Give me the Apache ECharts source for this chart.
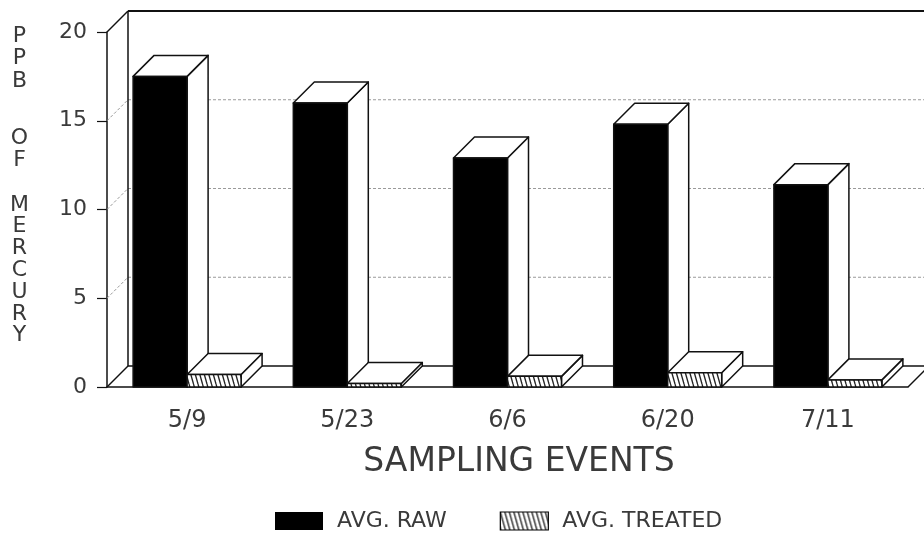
<!DOCTYPE html>
<html>
<head>
<meta charset="utf-8">
<title>PPB of Mercury by Sampling Event</title>
<script src="https://cdn.jsdelivr.net/npm/echarts@6/dist/echarts.min.js"></script>
<style>
  html, body { margin: 0; padding: 0; background: #fff; }
  #chart { width: 924px; height: 541px; }
</style>
</head>
<body>
<div id="chart"></div>
<script>
// Sampling dates and mercury readings (parts per billion)
const CATEGORIES = ['5/9', '5/23', '6/6', '6/20', '7/11'];
const AVG_RAW = [17.5, 16.0, 12.9, 14.8, 11.4];
const AVG_TREATED = [0.7, 0.2, 0.6, 0.8, 0.4];
const Y_TICKS = [0, 5, 10, 15, 20];
const SERIES_NAMES = ['AVG. RAW', 'AVG. TREATED'];
const Y_TITLE_WORDS = ['PPB', 'OF', 'MERCURY'];
const X_TITLE = 'SAMPLING EVENTS';

// Drawing style
const DEPTH = 21;          // oblique depth offset of the 3D box, px
const BAR_RATIO = 0.337;   // bar width as a share of a category band
const FONT = 'DejaVu Sans';
const INK = '#111';
const TEXT = '#3a3a3a';

// Diagonal hatch used for the treated bars
function hatchPattern() {
  const c = document.createElement('canvas');
  c.width = 9; c.height = 32;
  const g = c.getContext('2d');
  g.fillStyle = '#fff';
  g.fillRect(0, 0, 9, 32);
  g.strokeStyle = '#222';
  g.lineWidth = 1.3;
  for (const x of [-9, -4.5, 0, 4.5, 9]) {
    g.beginPath();
    g.moveTo(x, 0);
    g.lineTo(x + 9, 32);
    g.stroke();
  }
  return { image: c, repeat: 'repeat' };
}
const HATCH = hatchPattern();

const line = (x1, y1, x2, y2, style) => ({ type: 'line', shape: { x1, y1, x2, y2 }, style });

// Back wall, floor, left wall and wall gridlines, built from the grid rectangle
function renderFrame(params, api) {
  const cs = params.coordSys;
  const L = cs.x, T = cs.y, R = cs.x + cs.width, B = cs.y + cs.height, d = DEPTH;
  const solid = { stroke: INK, lineWidth: 1.5 };
  const thick = { stroke: INK, lineWidth: 2 };
  const dotted = { stroke: '#9a9a9a', lineWidth: 1, lineDash: [3, 2] };
  const children = [];
  const yMin = Y_TICKS[0], yMax = Y_TICKS[Y_TICKS.length - 1];
  Y_TICKS.filter(v => v > yMin && v < yMax).forEach(v => {
    const y = api.coord([0, v])[1];
    children.push(line(L, y, L + d, y - d, dotted));
    children.push(line(L + d, y - d, R + d, y - d, dotted));
  });
  children.push(
    line(L + d, T - d, R + d, T - d, thick),
    line(L + d, T - d, L + d, B - d, solid),
    line(L, T, L + d, T - d, solid),
    line(L, B, L + d, B - d, solid),
    line(L + d, B - d, R + d, B - d, solid),
    line(R, B, R + d, B - d, solid)
  );
  return { type: 'group', children };
}

// Oblique 3D bar: side face, top face and front face
function barRenderer(side, faceFill) {
  return function (params, api) {
    const i = api.value(0), v = api.value(1);
    const base = api.coord([i, 0]);
    const top = api.coord([i, v]);
    const w = api.size([1, 0])[0] * BAR_RATIO;
    const x0 = side === 'left' ? base[0] - w : base[0];
    const x1 = x0 + w, yB = base[1], yT = top[1], d = DEPTH;
    const edge = { stroke: INK, lineWidth: 1.5, lineJoin: 'round' };
    return {
      type: 'group',
      children: [
        { type: 'polygon', shape: { points: [[x1, yT], [x1 + d, yT - d], [x1 + d, yB - d], [x1, yB]] },
          style: Object.assign({}, edge, { fill: '#fff' }) },
        { type: 'polygon', shape: { points: [[x0, yT], [x0 + d, yT - d], [x1 + d, yT - d], [x1, yT]] },
          style: Object.assign({}, edge, { fill: '#fff' }) },
        { type: 'rect', shape: { x: x0, y: yT, width: w, height: yB - yT },
          style: Object.assign({}, edge, { fill: faceFill }) }
      ]
    };
  };
}

const chart = echarts.init(document.getElementById('chart'), null, { renderer: 'canvas' });

// Vertical, letter-stacked y-axis title, one block per word
const yTitle = [
  { y: 25, lineHeight: 22.5 },
  { y: 127, lineHeight: 22.5 },
  { y: 194, lineHeight: 21.8 }
];

chart.setOption({
  animation: false,
  backgroundColor: '#fff',
  grid: { left: 107, right: 16, top: 32, bottom: 154 },
  legend: {
    left: 275, top: 510, padding: 0,
    itemWidth: 48, itemHeight: 18, itemGap: 53,
    icon: 'rect',
    textStyle: { fontFamily: FONT, fontSize: 22, color: TEXT, padding: [0, 0, 0, 9] },
    data: [
      { name: SERIES_NAMES[0], itemStyle: { color: '#000' } },
      { name: SERIES_NAMES[1], itemStyle: { color: HATCH, borderColor: '#000', borderWidth: 1.2 } }
    ]
  },
  xAxis: {
    type: 'category',
    data: CATEGORIES,
    name: X_TITLE,
    nameLocation: 'middle',
    nameGap: 59,
    nameMoveOverlap: false,
    nameTextStyle: { fontFamily: FONT, fontSize: 33, color: TEXT, padding: [0, 0, 0, 23] },
    axisLine: { lineStyle: { color: INK, width: 1.5 } },
    axisTick: { alignWithLabel: true, length: 9, lineStyle: { color: INK, width: 1.2 } },
    axisLabel: { fontFamily: FONT, fontSize: 24, color: TEXT, margin: 22 },
    splitLine: { show: false }
  },
  yAxis: {
    type: 'value',
    min: Y_TICKS[0], max: Y_TICKS[Y_TICKS.length - 1], interval: Y_TICKS[1] - Y_TICKS[0],
    axisLine: { show: true, lineStyle: { color: INK, width: 1.5 } },
    axisTick: { show: true, length: 10, lineStyle: { color: INK, width: 1.2 } },
    axisLabel: { fontFamily: FONT, fontSize: 22, color: TEXT, margin: 20 },
    splitLine: { show: false }
  },
  graphic: Y_TITLE_WORDS.map((w, k) => ({
    type: 'text',
    x: 19.5,
    y: yTitle[k].y,
    style: {
      text: w.split('').join('\n'),
      fontFamily: FONT,
      fontSize: 22,
      fill: TEXT,
      lineHeight: yTitle[k].lineHeight,
      align: 'center',
      verticalAlign: 'top'
    }
  })),
  series: [
    { type: 'custom', name: 'frame', silent: true, z: 1, renderItem: renderFrame, data: [[0, 0]] },
    { type: 'custom', name: SERIES_NAMES[0], z: 2, renderItem: barRenderer('left', '#000'),
      itemStyle: { color: '#000' }, encode: { x: 0, y: 1 },
      data: AVG_RAW.map((v, i) => [i, v]) },
    { type: 'custom', name: SERIES_NAMES[1], z: 3, renderItem: barRenderer('right', HATCH),
      itemStyle: { color: HATCH, borderColor: '#000', borderWidth: 1.2 }, encode: { x: 0, y: 1 },
      data: AVG_TREATED.map((v, i) => [i, v]) }
  ]
});
</script>
</body>
</html>
